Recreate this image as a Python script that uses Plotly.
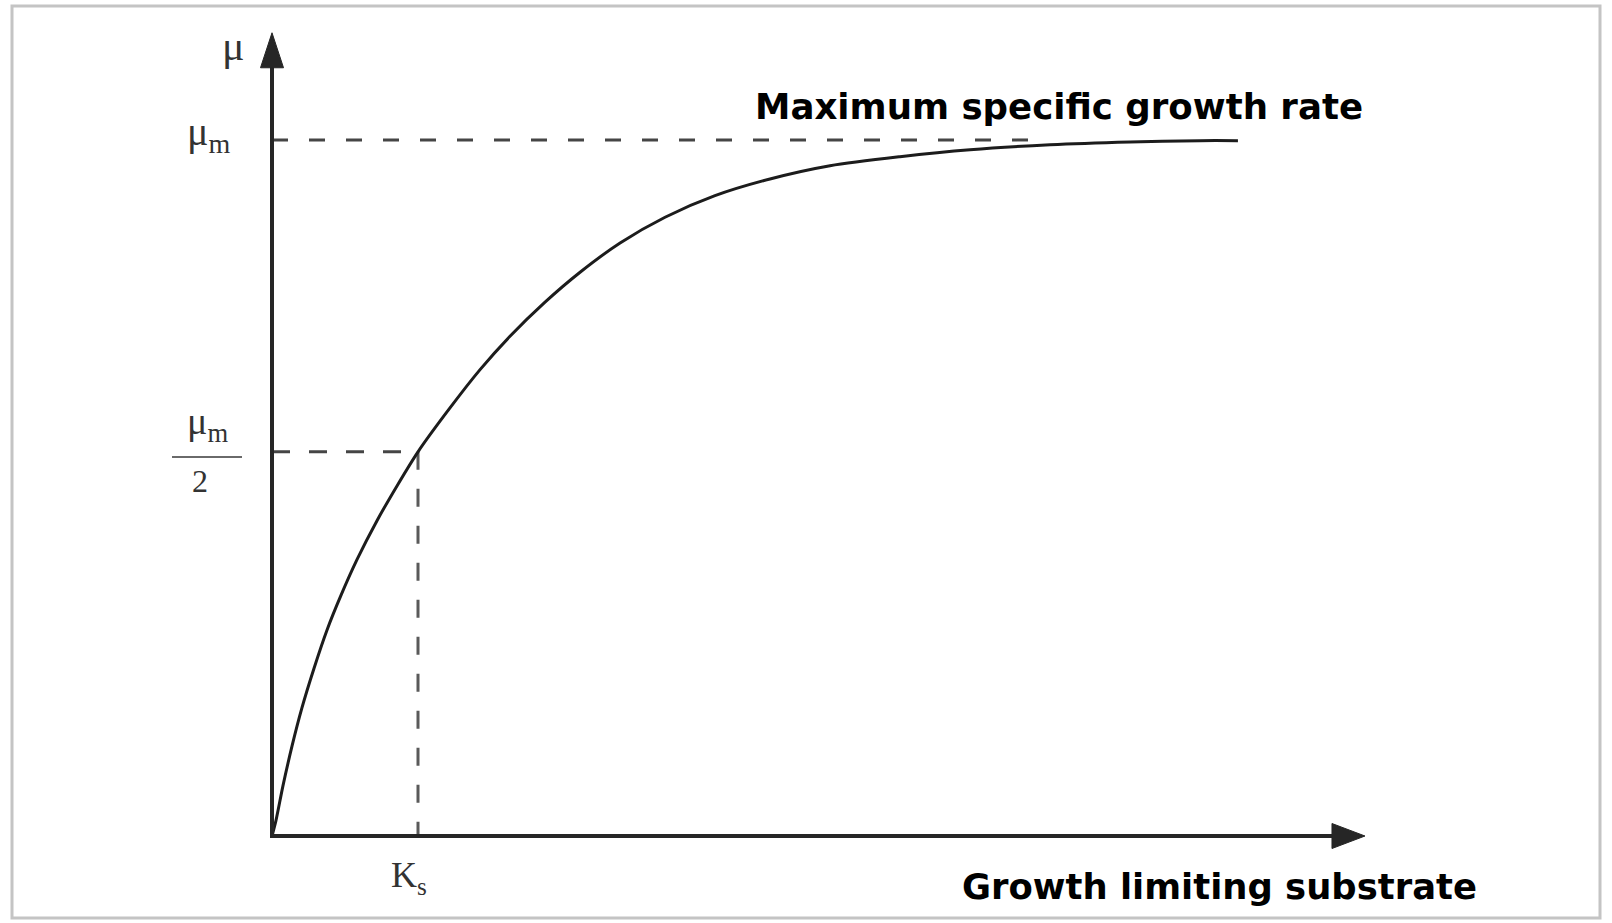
import plotly.graph_objects as go

W, H = 1612, 923

# Specific growth rate curve, traced point by point
# substrate: concentration in multiples of Ks ; growth_rate: fraction of mu_max
substrate = [0.0, 0.027, 0.075, 0.137, 0.205, 0.288, 0.377, 0.473, 0.582, 0.719,
             0.856, 1.000, 1.219, 1.425, 1.630, 1.870, 2.110, 2.384, 2.692, 3.034,
             3.411, 3.822, 4.301, 4.781, 5.329, 5.877, 6.356, 6.616]
growth_rate = [0.0, 0.022, 0.072, 0.129, 0.184, 0.241, 0.296, 0.346, 0.397, 0.453,
               0.503, 0.552, 0.615, 0.670, 0.718, 0.767, 0.810, 0.852, 0.889, 0.920,
               0.944, 0.963, 0.976, 0.986, 0.993, 0.997, 0.999, 0.999]

mu_max = 1.0          # level of the maximum specific growth rate
mu_half = 0.552       # level marked as mu_m / 2
ks = 1.0              # half-saturation constant
mu_max_dash_end = 5.2 # where the mu_max guide line meets the curve
x_axis_end = 7.486
y_axis_end = 1.154

tick_label_top = "μ"
tick_label_max = "μ<sub>m</sub>"
tick_label_half_num = "μ<sub>m</sub>"
tick_label_half_den = "2"
tick_label_ks = "K<sub>s</sub>"
title_rate = "Maximum specific growth rate"
title_substrate = "Growth limiting substrate"

x_range = [-1.863, 9.178]
y_range = [-0.125, 1.2011]


def px_x(p):
    return x_range[0] + p / W * (x_range[1] - x_range[0])


def px_y(p):
    return y_range[1] - p / H * (y_range[1] - y_range[0])


def dx(p):
    return p / W * (x_range[1] - x_range[0])


def dy(p):
    return p / H * (y_range[1] - y_range[0])


AXIS = "#262626"
CURVE = "#1c1c1c"
DASH = "#454545"
LABEL = "#333333"
SERIF = "Liberation Serif, Times New Roman, serif"
SANS = "DejaVu Sans, Arial, sans-serif"

fig = go.Figure()

# guide lines
fig.add_trace(go.Scatter(x=[0, mu_max_dash_end], y=[mu_max, mu_max], mode="lines",
                         line=dict(color=DASH, width=3, dash="16px,21px"),
                         hoverinfo="skip", showlegend=False))
fig.add_trace(go.Scatter(x=[0, ks], y=[mu_half, mu_half], mode="lines",
                         line=dict(color=DASH, width=3, dash="18px,19px"),
                         hoverinfo="skip", showlegend=False))
fig.add_trace(go.Scatter(x=[ks, ks], y=[mu_half, 0], mode="lines",
                         line=dict(color="#5a5a5a", width=3, dash="18px,19px"),
                         hoverinfo="skip", showlegend=False))

# growth curve
fig.add_trace(go.Scatter(x=substrate, y=growth_rate, mode="lines",
                         line=dict(color=CURVE, width=3, shape="spline", smoothing=0.8),
                         hoverinfo="skip", showlegend=False))

shapes = []
# axes with arrowheads
shapes.append(dict(type="line", xref="x", yref="y", x0=0, y0=0, x1=0,
                   y1=y_axis_end - dy(30), line=dict(color=AXIS, width=4)))
shapes.append(dict(type="line", xref="x", yref="y", x0=-dx(2), y0=0,
                   x1=x_axis_end - dx(30), y1=0, line=dict(color=AXIS, width=4)))
ah_len, ah_half = 35, 11.5
shapes.append(dict(type="path", xref="x", yref="y",
                   path=f"M {-dx(ah_half)},{y_axis_end - dy(ah_len)} L 0,{y_axis_end} "
                        f"L {dx(ah_half)},{y_axis_end - dy(ah_len)} Z",
                   fillcolor=AXIS, line=dict(color=AXIS, width=1)))
ax_len, ax_half = 33, 12.5
shapes.append(dict(type="path", xref="x", yref="y",
                   path=f"M {x_axis_end - dx(ax_len)},{dy(ax_half)} L {x_axis_end},0 "
                        f"L {x_axis_end - dx(ax_len)},{-dy(ax_half)} Z",
                   fillcolor=AXIS, line=dict(color=AXIS, width=1)))
# fraction bar of the mu_m / 2 label
shapes.append(dict(type="line", xref="x", yref="y", x0=px_x(172), x1=px_x(242),
                   y0=px_y(457), y1=px_y(457), line=dict(color="#6a6a6a", width=2)))
# outer frame
shapes.append(dict(type="rect", xref="paper", yref="paper",
                   x0=12 / W, x1=1600 / W, y0=1 - 918 / H, y1=1 - 6 / H,
                   line=dict(color="#c4c4c4", width=3)))

annotations = [
    dict(text=tick_label_top, x=px_x(233), y=px_y(46), font=dict(family=SERIF, size=42, color=LABEL)),
    dict(text=tick_label_max, x=px_x(208), y=px_y(134), font=dict(family=SERIF, size=40, color=LABEL)),
    dict(text=tick_label_half_num, x=px_x(207), y=px_y(424), font=dict(family=SERIF, size=38, color=LABEL)),
    dict(text=tick_label_half_den, x=px_x(200), y=px_y(481), font=dict(family=SERIF, size=32, color=LABEL)),
    dict(text=tick_label_ks, x=px_x(409), y=px_y(877), font=dict(family=SERIF, size=36, color=LABEL)),
    dict(text=f"<b>{title_rate}</b>", x=px_x(753), y=px_y(106), xanchor="left",
         font=dict(family=SANS, size=35.6, color="#000000")),
    dict(text=f"<b>{title_substrate}</b>", x=px_x(960), y=px_y(886), xanchor="left",
         font=dict(family=SANS, size=35.4, color="#000000")),
]
for a in annotations:
    a.setdefault("xanchor", "center")
    a.update(xref="x", yref="y", yanchor="middle", showarrow=False)

fig.update_layout(
    width=W, height=H,
    margin=dict(l=0, r=0, t=0, b=0),
    paper_bgcolor="white", plot_bgcolor="white",
    xaxis=dict(range=x_range, visible=False, fixedrange=True),
    yaxis=dict(range=y_range, visible=False, fixedrange=True),
    shapes=shapes, annotations=annotations,
    showlegend=False,
)

fig.write_html("out.html")
